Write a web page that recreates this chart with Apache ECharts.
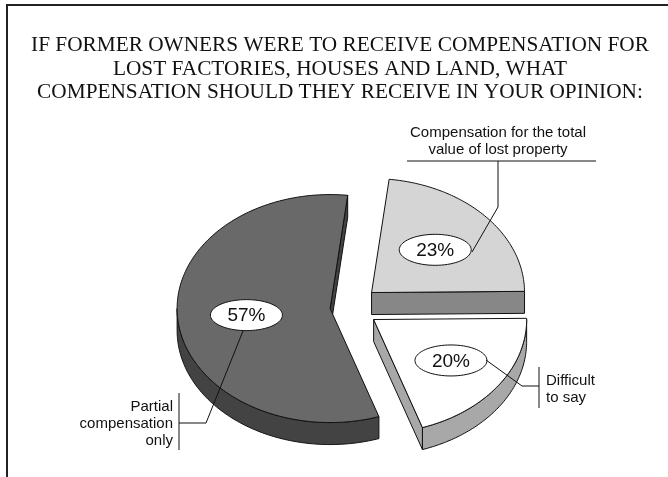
<!DOCTYPE html>
<html>
<head>
<meta charset="utf-8">
<script src="https://cdn.jsdelivr.net/npm/echarts@6/dist/echarts.min.js"></script>
<style>
  html, body { margin: 0; padding: 0; background: #ffffff; }
  #chart { width: 668px; height: 477px; }
</style>
</head>
<body>
<div id="chart"></div>
<script>
// Survey answers, percent of respondents
const titleLines = [
  'IF FORMER OWNERS WERE TO RECEIVE COMPENSATION FOR',
  'LOST FACTORIES, HOUSES AND LAND, WHAT',
  'COMPENSATION SHOULD THEY RECEIVE IN YOUR OPINION:'
];
const categories = [
  'Compensation for the total value of lost property',
  'Difficult to say',
  'Partial compensation only'
];
const shares = [23, 20, 57];

// Slice styling (top face / side walls)
const topColors = ['#d5d5d5', '#ffffff', '#696969'];
const sideColors = ['#878787', '#a8a8a8', '#434343'];
const explodeDist = [29, 29, 20];
const labelRadius = [0.56, 0.62, 0.55];

// Tilted pie geometry
const CX = 350, CY = 307, RX = 153, RY = 114, DEPTH = 22, START_DEG = 6.6;
const TOTAL = shares.reduce((a, b) => a + b, 0);
const RAD = Math.PI / 180;

function ellipsePoints(cx, cy, rx, ry) {
  const pts = [];
  for (let i = 0; i < 72; i++) {
    const t = i * 5 * RAD;
    pts.push([cx + rx * Math.cos(t), cy + ry * Math.sin(t)]);
  }
  return pts;
}

function renderSlice(params, api) {
  const idx = params.dataIndex;
  const value = api.value(1);
  let before = 0;
  for (let i = 0; i < idx; i++) before += shares[i];
  const a0 = START_DEG + before / TOTAL * 360;
  const a1 = a0 + value / TOTAL * 360;
  const mid = (a0 + a1) / 2 * RAD;
  const ox = CX + explodeDist[idx] * Math.sin(mid);
  const oy = CY - explodeDist[idx] * Math.cos(mid) * RY / RX;

  const pt = (deg, dz) => [ox + RX * Math.sin(deg * RAD), oy - RY * Math.cos(deg * RAD) + (dz || 0)];
  const arc = (from, to, dz) => {
    const pts = [];
    const n = Math.max(2, Math.ceil(to - from));
    for (let i = 0; i <= n; i++) pts.push(pt(from + (to - from) * i / n, dz));
    return pts;
  };

  const stroke = { stroke: '#111111', lineWidth: 1, lineJoin: 'round' };
  const side = Object.assign({ fill: sideColors[idx] }, stroke);
  const children = [];

  // radial walls facing the viewer
  if (Math.sin(a0 * RAD) < 0) {
    const p = pt(a0);
    children.push({ type: 'polygon', shape: { points: [[ox, oy], p, [p[0], p[1] + DEPTH], [ox, oy + DEPTH]] }, style: side });
  }
  if (Math.sin(a1 * RAD) > 0) {
    const p = pt(a1);
    children.push({ type: 'polygon', shape: { points: [[ox, oy], p, [p[0], p[1] + DEPTH], [ox, oy + DEPTH]] }, style: side });
  }
  // outer curved wall on the front half
  [[90, 270], [450, 630]].forEach(([lo, hi]) => {
    const s = Math.max(a0, lo), e = Math.min(a1, hi);
    if (e > s + 0.01) {
      const top = arc(s, e, 0);
      const bottom = arc(s, e, DEPTH).reverse();
      children.push({ type: 'polygon', shape: { points: top.concat(bottom) }, style: side });
    }
  });
  // top face
  children.push({
    type: 'polygon',
    shape: { points: [[ox, oy]].concat(arc(a0, a1, 0)) },
    style: Object.assign({ fill: topColors[idx] }, stroke)
  });
  // percentage label in a white ellipse
  const lx = ox + labelRadius[idx] * RX * Math.sin(mid);
  const ly = oy - labelRadius[idx] * RY * Math.cos(mid);
  children.push({
    type: 'polygon',
    shape: { points: ellipsePoints(lx, ly, 36, 15.5) },
    style: { fill: '#ffffff', stroke: '#111111', lineWidth: 1 }
  });
  children.push({
    type: 'text',
    style: {
      text: value + '%', x: lx, y: ly + 1,
      textAlign: 'center', textVerticalAlign: 'middle', align: 'center', verticalAlign: 'middle',
      font: '19px "Liberation Sans", Arial, sans-serif', fill: '#111111'
    }
  });
  return { type: 'group', children: children };
}

const serif = '21.3px "Liberation Serif", "Times New Roman", serif';
const sans = '15px "Liberation Sans", Arial, sans-serif';
function txt(text, x, y, align, font) {
  return {
    type: 'text', silent: true,
    style: { text: text, x: x, y: y, textAlign: align, textVerticalAlign: 'middle', align: align, verticalAlign: 'middle', font: font, fill: '#111111' }
  };
}
function line(points, width, color) {
  return { type: 'polyline', silent: true, shape: { points: points }, style: { stroke: color || '#111111', lineWidth: width || 1, fill: null } };
}

const graphics = [
  // frame
  line([[7, 477], [7, 5], [668, 5]], 2, '#222222'),
  txt(titleLines[0], 340, 45, 'center', serif),
  txt(titleLines[1], 340, 69, 'center', serif),
  txt(titleLines[2], 340, 92, 'center', serif),
  // total value label
  txt('Compensation for the total', 498, 133, 'center', sans),
  txt('value of lost property', 498, 150, 'center', sans),
  line([[407, 161], [596, 161]]),
  line([[498, 161], [498, 207], [472, 252]]),
  // difficult to say
  line([[539, 367], [539, 408]]),
  line([[486, 360], [522, 386], [539, 386]]),
  txt('Difficult', 546, 381, 'left', sans),
  txt('to say', 546, 398, 'left', sans),
  // partial compensation
  line([[179, 393], [179, 450]]),
  line([[243, 331], [206, 423], [179, 423]]),
  txt('Partial', 173, 407, 'right', sans),
  txt('compensation', 173, 424, 'right', sans),
  txt('only', 173, 441, 'right', sans)
];

const chart = echarts.init(document.getElementById('chart'), null, { renderer: 'canvas' });
chart.setOption({
  animation: false,
  backgroundColor: '#ffffff',
  series: [{
    type: 'custom',
    coordinateSystem: 'none',
    silent: true,
    renderItem: renderSlice,
    data: categories.map((c, i) => [c, shares[i]])
  }],
  graphic: { elements: graphics.map(g => Object.assign({ z: 100 }, g)) }
});
</script>
</body>
</html>
